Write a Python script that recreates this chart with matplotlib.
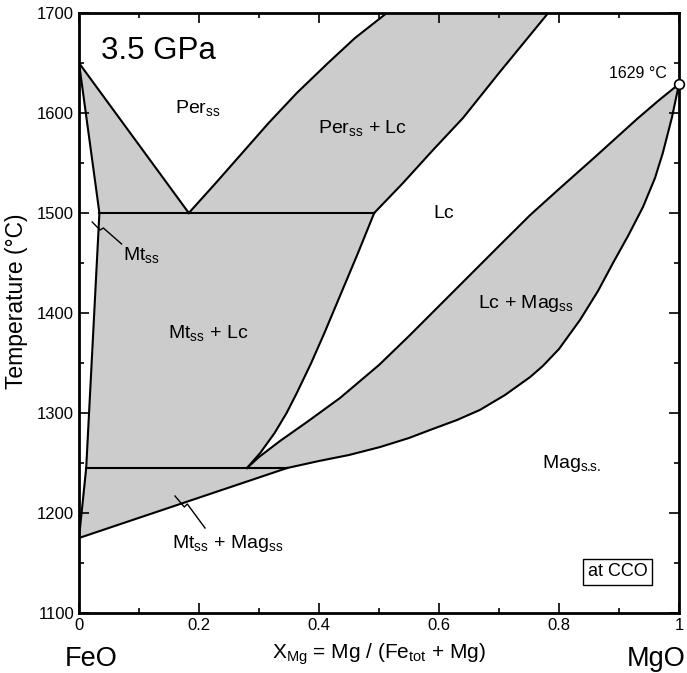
import matplotlib
matplotlib.use("Agg")
import matplotlib.pyplot as plt
from matplotlib.patches import Polygon
import matplotlib.transforms as mtransforms

plt.rcParams['font.family'] = ['Liberation Sans', 'DejaVu Sans']
plt.rcParams['mathtext.fontset'] = 'custom'
plt.rcParams['mathtext.rm'] = 'Liberation Sans'
plt.rcParams['mathtext.it'] = 'Liberation Sans'

# ---- data ----
# Mt_ss boundary (upper part, from FeO melting point to 1500 °C)
mt_upper_x = [0.0, 0.034]
mt_upper_T = [1650, 1500]
# Mt_ss boundary (lower part)
mt_lower_x = [0.034, 0.012, 0.0]
mt_lower_T = [1500, 1245, 1175]
# Per_ss liquidus on the FeO side down to the eutectic
per_liq_x = [0.0, 0.183]
per_liq_T = [1650, 1500]
# Per_ss + Lc band, left and right edges
band_left_x = [0.183, 0.228, 0.272, 0.316, 0.363, 0.415, 0.46, 0.513]
band_left_T = [1500, 1530, 1560, 1590, 1620, 1650, 1675, 1700]
band_right_x = [0.492, 0.54, 0.59, 0.64, 0.70, 0.782]
band_right_T = [1500, 1530, 1563, 1595, 1640, 1700]
# Lc / (Mt_ss + Lc) boundary
mtlc_x = [0.492, 0.465, 0.437, 0.409, 0.387, 0.363, 0.346, 0.326, 0.302, 0.28]
mtlc_T = [1500, 1460, 1420, 1380, 1350, 1320, 1300, 1280, 1260, 1245]
# Mag_ss liquidus
mag_liq_x = [0.28, 0.30, 0.335, 0.38, 0.435, 0.50, 0.55, 0.60, 0.65, 0.70, 0.752,
             0.80, 0.86, 0.93, 0.965, 1.0]
mag_liq_T = [1245, 1256, 1272, 1291, 1315, 1348, 1377, 1407, 1437, 1467, 1498,
             1524, 1556, 1594, 1612, 1629]
# Mag_ss solidus
mag_sol_x = [0.347, 0.40, 0.45, 0.502, 0.55, 0.585, 0.63, 0.668, 0.71, 0.752, 0.773,
             0.80, 0.835, 0.865, 0.89, 0.915, 0.94, 0.96, 0.973, 0.988, 1.0]
mag_sol_T = [1245, 1252, 1258, 1266, 1275, 1283, 1293, 1303, 1318, 1336, 1347,
             1364, 1393, 1422, 1450, 1477, 1506, 1535, 1560, 1595, 1629]
# Mt_ss + Mag_ss / Mag_ss boundary
mag_solvus_x = [0.0, 0.347]
mag_solvus_T = [1175, 1245]
# isotherms
iso_hi_x = [0.034, 0.492]
iso_hi_T = [1500, 1500]
iso_lo_x = [0.012, 0.347]
iso_lo_T = [1245, 1245]
# MgO melting point
mgo_x = [1.0]
mgo_T = [1629]
# leader lines
lead_mt_x = [0.022, 0.035, 0.0406, 0.071]
lead_mt_T = [1491, 1483, 1485, 1469]
lead_mtmag_x = [0.160, 0.1755, 0.1805, 0.21]
lead_mtmag_T = [1217, 1206, 1209, 1185]

xticks = [0, 0.2, 0.4, 0.6, 0.8, 1]
xticklabels = ['0', '0.2', '0.4', '0.6', '0.8', '1']
yticks = [1100, 1200, 1300, 1400, 1500, 1600, 1700]

GRAY = '#cccccc'
LW = 1.5

fig = plt.figure(figsize=(6.87, 6.73), dpi=100)
ax = fig.add_axes([79/687, 1-613/673, 600/687, 600/673])
ax.set_xlim(0, 1)
ax.set_ylim(1100, 1700)

def pts(xs, ts):
    return list(zip(xs, ts))

def rev(p):
    return p[::-1]

polys = []
polys.append(pts(per_liq_x, per_liq_T) + rev(pts(mt_upper_x, mt_upper_T)))
polys.append(pts(band_left_x, band_left_T) + rev(pts(band_right_x, band_right_T)))
polys.append(pts(iso_hi_x, iso_hi_T) + pts(mtlc_x, mtlc_T)[1:] +
             [(iso_lo_x[0], iso_lo_T[0])] + [(mt_lower_x[0], mt_lower_T[0])])
polys.append(pts(mag_liq_x, mag_liq_T) + rev(pts(mag_sol_x, mag_sol_T)))
polys.append(pts(iso_lo_x, iso_lo_T) + rev(pts(mag_solvus_x, mag_solvus_T)) +
             [(mt_lower_x[1], mt_lower_T[1])])

for p in polys:
    ax.add_patch(Polygon(p, closed=True, facecolor=GRAY, edgecolor='none', zorder=1))

for xs, ts in [(mt_upper_x, mt_upper_T), (mt_lower_x, mt_lower_T), (per_liq_x, per_liq_T),
               (band_left_x, band_left_T), (band_right_x, band_right_T), (mtlc_x, mtlc_T),
               (mag_liq_x, mag_liq_T), (mag_sol_x, mag_sol_T), (mag_solvus_x, mag_solvus_T),
               (iso_hi_x, iso_hi_T), (iso_lo_x, iso_lo_T)]:
    ax.plot(xs, ts, color='black', lw=LW, zorder=3, solid_joinstyle='round')

for xs, ts in [(lead_mt_x, lead_mt_T), (lead_mtmag_x, lead_mtmag_T)]:
    ax.plot(xs, ts, color='black', lw=1.0, zorder=3)

ax.plot(mgo_x, mgo_T, 'o', ms=7, mfc='white', mec='black', mew=1.2, clip_on=False, zorder=5)

FS = 14
def sub(s):
    return r'$_\mathregular{' + s + '}$'

def lab(x, y, s, size=FS, ha='left'):
    ax.text(x, y, s, fontsize=size, ha=ha, va='center', zorder=4)

ax.text(0.037, 1662, '3.5 GPa', fontsize=22.5, ha='left', va='center')
lab(0.160, 1605, 'Per' + sub('ss'))
lab(0.398, 1585, 'Per' + sub('ss') + ' + Lc')
lab(0.59, 1499, 'Lc')
lab(0.148, 1380, 'Mt' + sub('ss') + ' + Lc')
lab(0.665, 1410, 'Lc + Mag' + sub('ss'))
lab(0.772, 1250, 'Mag' + sub(r's.\!\!s.'))
lab(0.073, 1458, 'Mt' + sub('ss'))
lab(0.155, 1170, 'Mt' + sub('ss') + ' + Mag' + sub('ss'))
ax.text(0.98, 1640, '1629 °C', fontsize=11.5, ha='right', va='center')
ax.text(0.898, 1141, 'at CCO', fontsize=13, ha='center', va='center',
        bbox=dict(boxstyle='square,pad=0.25', facecolor='white', edgecolor='black', lw=1.0))

ax.set_xticks(xticks)
ax.set_xticklabels(xticklabels)
ax.set_yticks(yticks)
ax.set_xticks([0.1, 0.3, 0.5, 0.7, 0.9], minor=True)
ax.set_yticks([1150, 1250, 1350, 1450, 1550, 1650], minor=True)
ax.tick_params(which='both', direction='in', top=True, right=True, labelsize=12, width=1.2)
ax.tick_params(which='major', length=7)
ax.tick_params(which='minor', length=3.5)
for sp in ax.spines.values():
    sp.set_linewidth(2)

ax.set_ylabel('Temperature (°C)', fontsize=16.5)
ax.yaxis.set_label_coords(-0.085, 0.52)
ax.set_xlabel('X' + sub('Mg') + ' = Mg / (Fe' + sub('tot') + ' + Mg)', fontsize=15, labelpad=6)

trans = mtransforms.blended_transform_factory(ax.transData, ax.transAxes)
ax.text(0.02, -0.077, 'FeO', fontsize=19.5, ha='center', va='center', transform=trans)
ax.text(0.962, -0.077, 'MgO', fontsize=19.5, ha='center', va='center', transform=trans)

fig.savefig('out.png', dpi=100)
